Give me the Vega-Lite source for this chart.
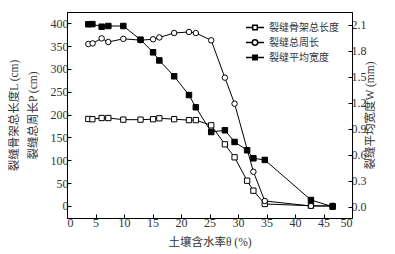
{
  "$schema": "https://vega.github.io/schema/vega-lite/v6.json",
  "width": 285,
  "height": 206,
  "autosize": {"type": "none"},
  "padding": {"left": 67, "top": 12, "right": 43, "bottom": 36},
  "background": "white",
  "config": {
    "view": {"stroke": "black", "strokeWidth": 1},
    "font": "Liberation Serif",
    "axis": {
      "grid": false,
      "domainColor": "black",
      "domainWidth": 1,
      "tickColor": "black",
      "tickSize": -4,
      "labelPadding": 3,
      "labelFont": "Liberation Serif",
      "labelFontSize": 12,
      "labelColor": "#333",
      "titleFont": "Liberation Serif, Noto Sans CJK SC",
      "titleFontSize": 11.5,
      "titleFontWeight": "normal",
      "titleColor": "#333"
    },
    "legend": {
      "padding": 0,
      "symbolSize": 81,
      "labelOffset": 8.5,
      "rowPadding": 3,
      "labelFont": "Noto Sans CJK SC",
      "labelFontSize": 10,
      "labelColor": "#333"
    }
  },
  "datasets": {
    "d": [
      {"theta": 3.74, "series": "裂缝骨架总长度", "v": 190.5},
      {"theta": 4.45, "series": "裂缝骨架总长度", "v": 190},
      {"theta": 6.08, "series": "裂缝骨架总长度", "v": 192.6},
      {"theta": 7.25, "series": "裂缝骨架总长度", "v": 192.6},
      {"theta": 9.88, "series": "裂缝骨架总长度", "v": 189},
      {"theta": 12.9, "series": "裂缝骨架总长度", "v": 189},
      {"theta": 15.1, "series": "裂缝骨架总长度", "v": 190},
      {"theta": 16.2, "series": "裂缝骨架总长度", "v": 192},
      {"theta": 18.8, "series": "裂缝骨架总长度", "v": 190},
      {"theta": 21.4, "series": "裂缝骨架总长度", "v": 188},
      {"theta": 22.6, "series": "裂缝骨架总长度", "v": 188},
      {"theta": 25.3, "series": "裂缝骨架总长度", "v": 176.6},
      {"theta": 27.7, "series": "裂缝骨架总长度", "v": 135},
      {"theta": 29.4, "series": "裂缝骨架总长度", "v": 106.6},
      {"theta": 31.6, "series": "裂缝骨架总长度", "v": 55.4},
      {"theta": 32.7, "series": "裂缝骨架总长度", "v": 33.5},
      {"theta": 34.7, "series": "裂缝骨架总长度", "v": 4.4},
      {"theta": 42.8, "series": "裂缝骨架总长度", "v": 0.5},
      {"theta": 46.6, "series": "裂缝骨架总长度", "v": 0},
      {"theta": 3.74, "series": "裂缝总周长", "v": 354.6},
      {"theta": 4.5, "series": "裂缝总周长", "v": 356},
      {"theta": 6.08, "series": "裂缝总周长", "v": 367},
      {"theta": 7.25, "series": "裂缝总周长", "v": 359},
      {"theta": 9.88, "series": "裂缝总周长", "v": 366},
      {"theta": 12.9, "series": "裂缝总周长", "v": 363},
      {"theta": 15.1, "series": "裂缝总周长", "v": 365},
      {"theta": 16.2, "series": "裂缝总周长", "v": 369},
      {"theta": 18.8, "series": "裂缝总周长", "v": 378.7},
      {"theta": 21.4, "series": "裂缝总周长", "v": 381},
      {"theta": 22.6, "series": "裂缝总周长", "v": 378.7},
      {"theta": 25.3, "series": "裂缝总周长", "v": 362.7},
      {"theta": 27.7, "series": "裂缝总周长", "v": 281},
      {"theta": 29.4, "series": "裂缝总周长", "v": 224},
      {"theta": 32.7, "series": "裂缝总周长", "v": 75},
      {"theta": 34.7, "series": "裂缝总周长", "v": 11},
      {"theta": 42.8, "series": "裂缝总周长", "v": 0},
      {"theta": 46.6, "series": "裂缝总周长", "v": 0},
      {"theta": 3.74, "series": "裂缝平均宽度", "v": 2.108},
      {"theta": 4.45, "series": "裂缝平均宽度", "v": 2.11},
      {"theta": 6.08, "series": "裂缝平均宽度", "v": 2.08},
      {"theta": 7.25, "series": "裂缝平均宽度", "v": 2.088},
      {"theta": 9.88, "series": "裂缝平均宽度", "v": 2.088},
      {"theta": 12.9, "series": "裂缝平均宽度", "v": 1.93},
      {"theta": 15.1, "series": "裂缝平均宽度", "v": 1.784},
      {"theta": 16.2, "series": "裂缝平均宽度", "v": 1.69},
      {"theta": 18.8, "series": "裂缝平均宽度", "v": 1.507},
      {"theta": 21.4, "series": "裂缝平均宽度", "v": 1.29},
      {"theta": 22.6, "series": "裂缝平均宽度", "v": 1.149},
      {"theta": 25.3, "series": "裂缝平均宽度", "v": 0.863},
      {"theta": 27.7, "series": "裂缝平均宽度", "v": 0.883},
      {"theta": 29.4, "series": "裂缝平均宽度", "v": 0.748},
      {"theta": 31.6, "series": "裂缝平均宽度", "v": 0.652},
      {"theta": 32.7, "series": "裂缝平均宽度", "v": 0.559},
      {"theta": 34.7, "series": "裂缝平均宽度", "v": 0.54},
      {"theta": 42.8, "series": "裂缝平均宽度", "v": 0.077},
      {"theta": 46.6, "series": "裂缝平均宽度", "v": 0}
    ]
  },
  "data": {"name": "d"},
  "encoding": {
    "x": {
      "field": "theta",
      "type": "quantitative",
      "scale": {"domain": [0, 50], "nice": false, "zero": false},
      "axis": {"values": [0, 5, 10, 15, 20, 25, 30, 35, 40, 45, 50], "title": "土壤含水率θ (%)", "titlePadding": 8}
    }
  },
  "layer": [
    {
      "transform": [{"filter": "datum.series !== '裂缝平均宽度'"}],
      "encoding": {
        "y": {
          "field": "v",
          "type": "quantitative",
          "scale": {"domain": [-26.3, 424.7], "nice": false, "zero": false},
          "axis": {
            "values": [0, 50, 100, 150, 200, 250, 300, 350, 400],
            "title": ["裂缝骨架总长度L (cm)", "裂缝总周长P (cm)"],
            "titleLineHeight": 19,
            "titlePadding": 12
          }
        }
      },
      "layer": [
        {"mark": {"type": "line", "color": "black", "strokeWidth": 1}, "encoding": {"detail": {"field": "series"}}},
        {
          "transform": [{"filter": "datum.series === '裂缝骨架总长度'"}],
          "mark": {"type": "point", "shape": "square", "filled": true, "fill": "white", "stroke": "black", "strokeWidth": 1, "size": 28, "opacity": 1}
        },
        {
          "transform": [{"filter": "datum.series === '裂缝总周长'"}],
          "mark": {"type": "point", "shape": "circle", "filled": true, "fill": "white", "stroke": "black", "strokeWidth": 1, "size": 30, "opacity": 1}
        },
        {
          "transform": [{"filter": "false"}],
          "mark": {"type": "point", "filled": true, "stroke": "black", "strokeWidth": 1, "opacity": 1},
          "encoding": {
            "shape": {
              "field": "series",
              "type": "nominal",
              "scale": {
                "domain": ["裂缝骨架总长度", "裂缝总周长", "裂缝平均宽度"],
                "range": [
                  "M-2,0H-0.5M0.5,0H2M-0.5,-0.5H0.5V0.5H-0.5Z",
                  "M-2,0H-0.6M0.6,0H2M-0.6,0A0.6,0.6 0 1,1 0.6,0A0.6,0.6 0 1,1 -0.6,0Z",
                  "M-2,0H-0.5M0.5,0H2M-0.5,-0.5H0.5V0.5H-0.5Z"
                ]
              },
              "legend": {
                "title": null,
                "orient": "none",
                "legendX": 182.5,
                "legendY": 10,
                "encode": {"symbols": {"update": {"stroke": {"value": "black"}, "strokeWidth": {"value": 1}}}}
              }
            },
            "fill": {
              "field": "series",
              "type": "nominal",
              "scale": {
                "domain": ["裂缝骨架总长度", "裂缝总周长", "裂缝平均宽度"],
                "range": ["white", "white", "black"]
              },
              "legend": {
                "title": null,
                "orient": "none",
                "legendX": 182.5,
                "legendY": 10
              }
            }
          }
        }
      ]
    },
    {
      "transform": [{"filter": "datum.series === '裂缝平均宽度'"}],
      "encoding": {
        "y": {
          "field": "v",
          "type": "quantitative",
          "scale": {"domain": [-0.131, 2.25], "nice": false, "zero": false},
          "axis": {
            "orient": "right",
            "values": [0, 0.3, 0.6, 0.9, 1.2, 1.5, 1.8, 2.1],
            "format": ".1f",
            "title": "裂缝平均宽度W (mm)",
            "titleAngle": -90,
            "titlePadding": 9
          }
        }
      },
      "layer": [
        {"mark": {"type": "line", "color": "black", "strokeWidth": 1}},
        {"mark": {"type": "point", "shape": "square", "filled": true, "fill": "black", "stroke": "black", "strokeWidth": 1, "size": 30, "opacity": 1}}
      ]
    }
  ],
  "resolve": {"scale": {"y": "independent"}}
}
